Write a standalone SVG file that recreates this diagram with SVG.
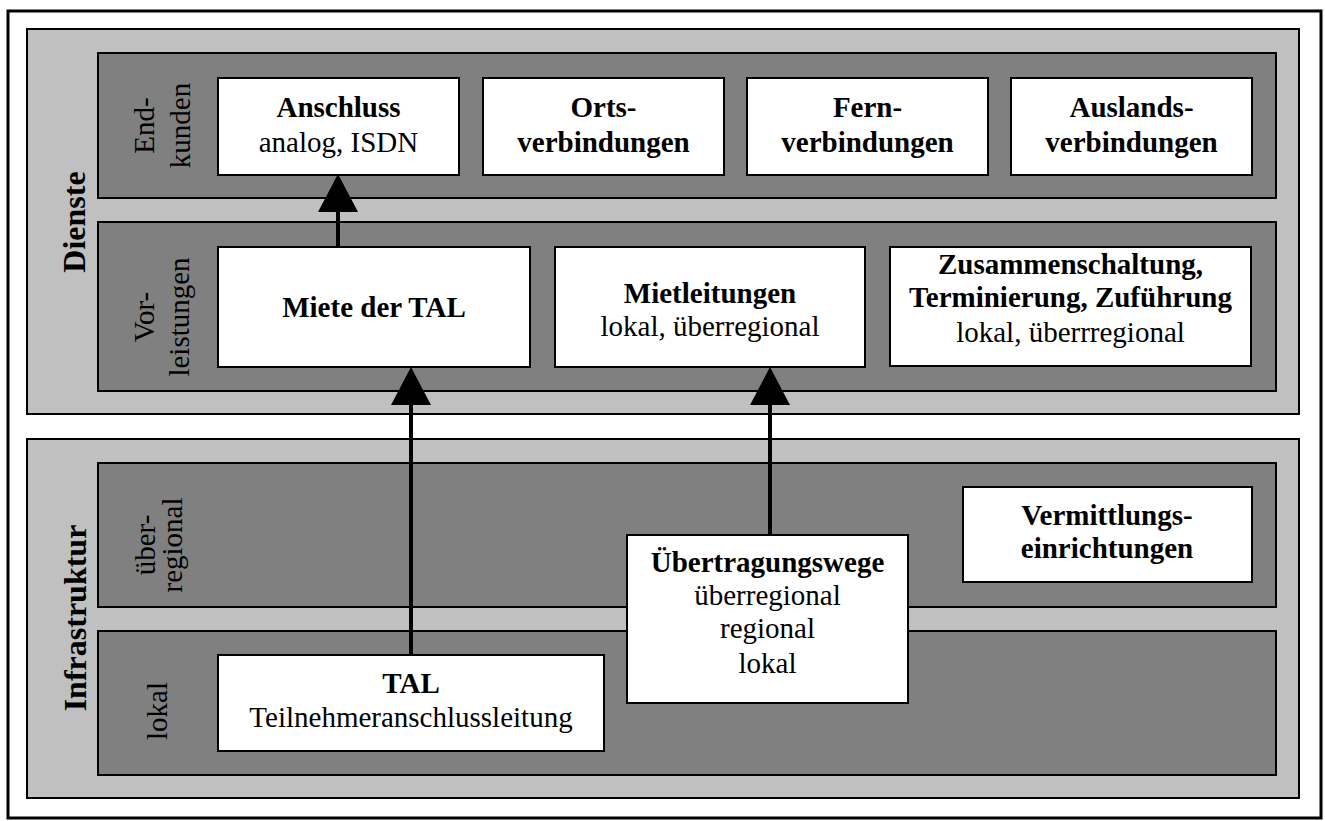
<svg xmlns="http://www.w3.org/2000/svg" width="1325" height="821" viewBox="0 0 1325 821" font-family="'Liberation Serif', 'Times New Roman', serif">
<style>
.frame{fill:#fff;stroke:#000;stroke-width:3}
.panel{fill:#c0c0c0;stroke:#000;stroke-width:2}
.band{fill:#808080;stroke:#000;stroke-width:2}
.box{fill:#fff;stroke:#000;stroke-width:2}
text{font-family:"Liberation Serif","Times New Roman",serif;fill:#000;text-anchor:middle}
.t{font-size:29px}
.b{font-size:29px;font-weight:bold}
.h{font-size:32px;font-weight:bold}
.arrow{stroke:#000;stroke-width:4;fill:none;marker-end:url(#head)}
</style>
<defs>
<marker id="head" viewBox="0 0 38 40" markerWidth="38" markerHeight="40" refX="0" refY="20" orient="auto" markerUnits="userSpaceOnUse">
<path d="M0,0 L38,20 L0,40 Z" fill="#000"/>
</marker>
</defs>
<rect class="frame" x="8" y="11" width="1313" height="807"/>

<g id="dienste">
<rect class="panel" x="27" y="29" width="1272" height="385"/>
<text class="h" transform="translate(0,222) rotate(-90)" x="0" y="85">Dienste</text>
</g>
<g id="endkunden">
<rect class="band" x="98" y="53" width="1178" height="145"/>
<text class="t" transform="translate(0,125.5) rotate(-90)" x="0"><tspan x="0" y="154">End-</tspan><tspan x="0" y="190">kunden</tspan></text>
</g>
<g id="vorleistungen">
<rect class="band" x="98" y="222" width="1178" height="169"/>
<text class="t" transform="translate(0,317) rotate(-90)" x="0"><tspan x="0" y="154">Vor-</tspan><tspan x="0" y="189">leistungen</tspan></text>
</g>

<g id="infrastruktur">
<rect class="panel" x="27" y="439" width="1272" height="359"/>
<text class="h" transform="translate(0,618) rotate(-90)" x="0" y="86">Infrastruktur</text>
</g>
<g id="ueberregional">
<rect class="band" x="98" y="463" width="1178" height="144"/>
<text class="t" transform="translate(0,545) rotate(-90)" x="0"><tspan x="0" y="155">über-</tspan><tspan x="0" y="182">regional</tspan></text>
</g>
<g id="lokal">
<rect class="band" x="98" y="631" width="1178" height="144"/>
<text class="t" transform="translate(0,711) rotate(-90)" x="0" y="167">lokal</text>
</g>

<g id="anschluss">
<rect class="box" x="218" y="78" width="241" height="97"/>
<text x="338.5"><tspan class="b" x="338.5" y="117">Anschluss</tspan><tspan class="t" x="338.5" y="152">analog, ISDN</tspan></text>
</g>
<g id="ortsverbindungen">
<rect class="box" x="483" y="78" width="241" height="97"/>
<text class="b"><tspan x="603.5" y="117">Orts-</tspan><tspan x="603.5" y="152">verbindungen</tspan></text>
</g>
<g id="fernverbindungen">
<rect class="box" x="747" y="78" width="241" height="97"/>
<text class="b"><tspan x="867.5" y="117">Fern-</tspan><tspan x="867.5" y="152">verbindungen</tspan></text>
</g>
<g id="auslandsverbindungen">
<rect class="box" x="1011" y="78" width="241" height="97"/>
<text class="b"><tspan x="1131.5" y="117">Auslands-</tspan><tspan x="1131.5" y="152">verbindungen</tspan></text>
</g>

<g id="miete-tal">
<rect class="box" x="218" y="247" width="312" height="120"/>
<text class="b" x="374" y="317">Miete der TAL</text>
</g>
<g id="mietleitungen">
<rect class="box" x="555" y="247" width="310" height="120"/>
<text><tspan class="b" x="710" y="303">Mietleitungen</tspan><tspan class="t" x="710" y="336">lokal, überregional</tspan></text>
</g>
<g id="zusammenschaltung">
<rect class="box" x="890" y="247" width="361" height="119"/>
<text><tspan class="b" x="1070.5" y="274">Zusammenschaltung,</tspan><tspan class="b" x="1070.5" y="307">Terminierung, Zuführung</tspan><tspan class="t" x="1070.5" y="342">lokal, überrregional</tspan></text>
</g>

<g id="vermittlung">
<rect class="box" x="963" y="487" width="289" height="95"/>
<text class="b"><tspan x="1107" y="525">Vermittlungs-</tspan><tspan x="1107" y="558">einrichtungen</tspan></text>
</g>
<g id="uebertragungswege">
<rect class="box" x="627" y="535" width="281" height="168"/>
<text><tspan class="b" x="767.5" y="572">Übertragungswege</tspan><tspan class="t" x="767.5" y="605">überregional</tspan><tspan class="t" x="767.5" y="638">regional</tspan><tspan class="t" x="767.5" y="673">lokal</tspan></text>
</g>
<g id="tal">
<rect class="box" x="218" y="655" width="386" height="96"/>
<text><tspan class="b" x="411" y="693">TAL</tspan><tspan class="t" x="411" y="727">Teilnehmeranschlussleitung</tspan></text>
</g>

<g id="connectors">
<path class="arrow" d="M338,247 L338,212"/>
<path class="arrow" d="M411,655 L411,405"/>
<path class="arrow" d="M770,535 L770,405"/>
</g>
</svg>
